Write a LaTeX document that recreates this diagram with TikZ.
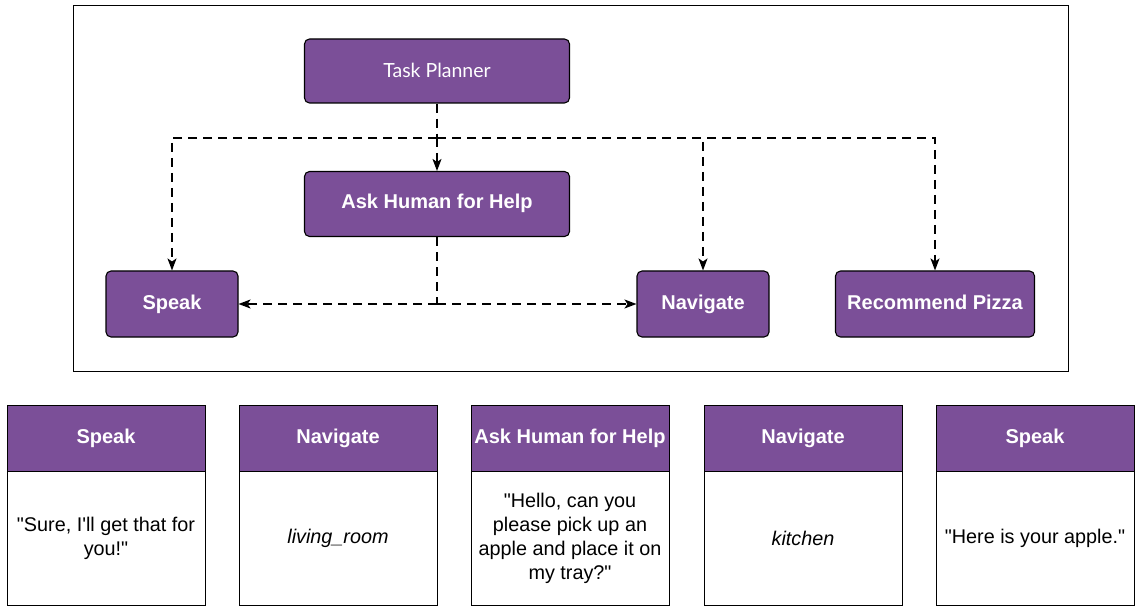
\documentclass[tikz,border=0pt]{standalone}
\usepackage{fontspec}
\setmainfont{Liberation Sans}
\newfontfamily\plannerfont{Lato}
\usetikzlibrary{arrows.meta, positioning}
\definecolor{skillpurple}{RGB}{123,79,152}

\tikzset{
	skill/.style={draw=black, fill=skillpurple, rounded corners=5pt, line width=1.1pt,
		text=white, font=\fontsize{20}{23}\selectfont\bfseries, align=center,
		text height=14pt, text depth=4pt},
	flow/.style={dash pattern=on 9pt off 6pt, line width=1.2pt, -{Stealth[length=12pt,width=9pt,inset=3pt]}},
	cardhead/.style={draw=black, fill=skillpurple, line width=1pt, text=white,
		minimum width=198pt, minimum height=66pt, inner sep=0pt, outer sep=0pt,
		font=\fontsize{20}{23}\selectfont\bfseries},
	cardbody/.style={draw=black, fill=white, line width=1pt, minimum width=198pt,
		minimum height=134pt, inner sep=0pt, outer sep=0pt, align=center,
		font=\fontsize{19.8}{24}\selectfont}
}

\begin{document}
\begin{tikzpicture}[x=1pt, y=-1pt]
	% canvas size
	\useasboundingbox (0,0) rectangle (1142,609);
	
	% Frame round the planner
	\draw[line width=1pt] (73,6) rectangle (1068,371);
	
	% Skills
	\node[skill, minimum width=265pt, minimum height=64pt, text height=16pt, text depth=2pt,
		font=\fontsize{19.5}{23}\selectfont\plannerfont] (planner) at (437,71) {Task Planner};
	\node[skill, minimum width=265pt, minimum height=65pt] (ask) at (437,204) {Ask Human for Help};
	\node[skill, minimum width=132pt, minimum height=66pt] (speak) at (172,304) {Speak};
	\node[skill, minimum width=132pt, minimum height=66pt] (navigate) at (703,304) {Navigate};
	\node[skill, minimum width=199pt, minimum height=66pt] (pizza) at (935,304) {Recommend Pizza};
	
	% Split points
	\coordinate (split) at (437,138);
	\coordinate (asksplit) at (437,304);
	
	% Planner calls every skill
	\draw[flow, -] (planner.south) -- (split);
	\draw[flow] (split) -- (ask.north);
	\draw[flow] (split) -| (speak.north);
	\draw[flow] (split) -| (navigate.north);
	\draw[flow] (split) -| (pizza.north);
	
	% Ask Human for Help calls Speak and Navigate
	\draw[flow, -] (ask.south) -- (asksplit);
	\draw[flow] (asksplit) -- (speak.east);
	\draw[flow] (asksplit) -- (navigate.west);
	
	% Executed plan
	\foreach \i/\x/\head/\body in {
		1/106/Speak/{\textquotedbl Sure, I\textquotesingle ll get that for\\you!\textquotedbl},
		2/338/Navigate/{\itshape living\_room},
		3/570/Ask Human for Help/{\textquotedbl Hello, can you\\please pick up an\\apple and place it on\\my tray?\textquotedbl},
		4/803/Navigate/{\itshape kitchen},
		5/1035/Speak/{\textquotedbl Here is your apple.\textquotedbl}} {
		\node[cardhead] (head\i) at (\x,438) {\head};
		\node[cardbody, anchor=north] (body\i) at (head\i.south) {\body};
	}
	
\end{tikzpicture}
\end{document}
